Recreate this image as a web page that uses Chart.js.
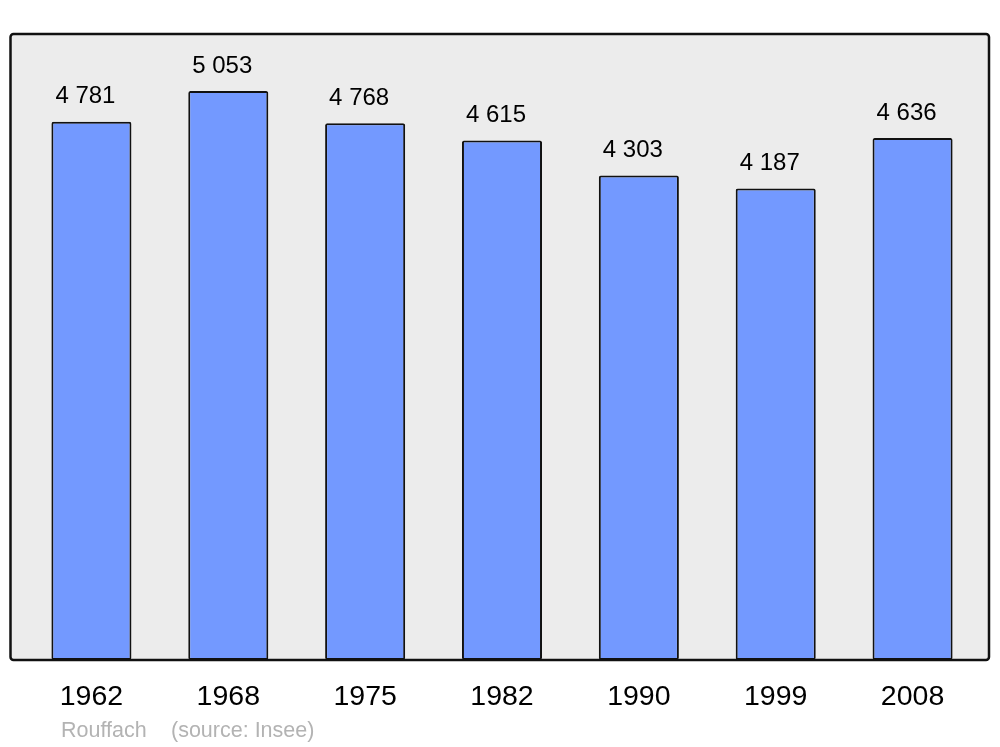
<!DOCTYPE html>
<html>
<head>
    <title>Rouffach population</title>
    <script src="https://cdn.jsdelivr.net/npm/chart.js"></script>
    <style>
        body {
            margin: 0;
            background-color: white;
        }
    </style>
</head>
<body>
    <canvas id="popChart" width="1000" height="747"></canvas>

    <script>
        const years = ['1962', '1968', '1975', '1982', '1990', '1999', '2008'];
        const population = [4781, 5053, 4768, 4615, 4303, 4187, 4636];
        const place = 'Rouffach';
        const source = '(source: Insee)';

        // French style thousands: "4 781"
        function fmt(v) {
            return String(v).replace(/\B(?=(\d{3})+(?!\d))/g, ' ');
        }

        function roundRect(ctx, x, y, w, h, r) {
            ctx.beginPath();
            ctx.moveTo(x + r, y);
            ctx.arcTo(x + w, y, x + w, y + h, r);
            ctx.arcTo(x + w, y + h, x, y + h, r);
            ctx.arcTo(x, y + h, x, y, r);
            ctx.arcTo(x, y, x + w, y, r);
            ctx.closePath();
        }

        const framePlugin = {
            id: 'frame',
            beforeDatasetsDraw(chart) {
                const a = chart.chartArea;
                const ctx = chart.ctx;
                ctx.save();
                roundRect(ctx, a.left - 12.5, a.top, a.right - a.left + 20.5, a.bottom - a.top, 3);
                ctx.fillStyle = '#ececec';
                ctx.fill();
                ctx.restore();
            },
            afterDatasetsDraw(chart) {
                const a = chart.chartArea;
                const ctx = chart.ctx;
                ctx.save();
                roundRect(ctx, a.left - 12.5, a.top, a.right - a.left + 20.5, a.bottom - a.top, 3);
                ctx.lineWidth = 2.5;
                ctx.strokeStyle = '#111';
                ctx.stroke();

                // value labels above bars
                ctx.font = '24px "Liberation Sans", Arial, sans-serif';
                ctx.fillStyle = '#000';
                ctx.textAlign = 'center';
                ctx.textBaseline = 'middle';
                chart.getDatasetMeta(0).data.forEach((bar, i) => {
                    ctx.fillText(fmt(population[i]), bar.x - 6, bar.y - 25);
                });

                // footer
                ctx.font = '21.5px "Liberation Sans", Arial, sans-serif';
                ctx.fillStyle = '#b3b3b3';
                ctx.textAlign = 'left';
                ctx.fillText(place, 61, 731);
                ctx.fillText(source, 171, 731);
                ctx.restore();
            }
        };

        const ctx = document.getElementById('popChart').getContext('2d');
        const popChart = new Chart(ctx, {
            type: 'bar',
            data: {
                labels: years,
                datasets: [{
                    data: population,
                    backgroundColor: '#7399ff',
                    borderColor: '#111',
                    borderWidth: 2,
                    borderRadius: 2,
                    borderSkipped: false,
                    barPercentage: 0.585,
                    categoryPercentage: 1
                }]
            },
            options: {
                responsive: false,
                animation: false,
                layout: {
                    padding: { left: 23, right: 19, top: 34, bottom: 0 }
                },
                plugins: {
                    legend: { display: false },
                    tooltip: { enabled: false }
                },
                scales: {
                    x: {
                        grid: { display: false, drawTicks: false },
                        border: { display: false },
                        ticks: {
                            color: '#000',
                            padding: 20,
                            font: { size: 28.5, family: '"Liberation Sans", Arial, sans-serif' }
                        },
                        afterFit(scale) { scale.height = 87; }
                    },
                    y: {
                        display: false,
                        min: 0,
                        max: 5560
                    }
                }
            },
            plugins: [framePlugin]
        });
    </script>
</body>
</html>
